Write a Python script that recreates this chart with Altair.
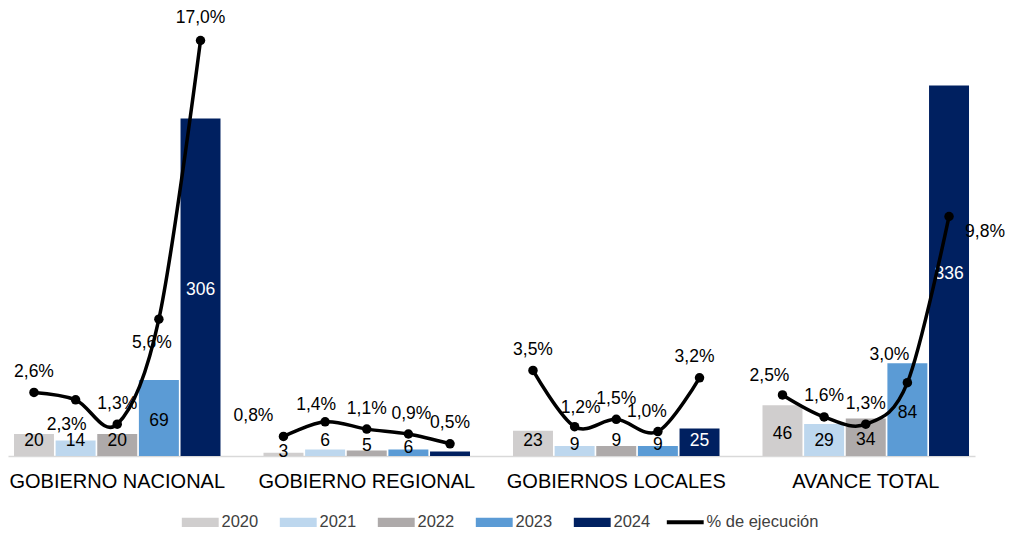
import altair as alt
import pandas as pd

categories = ["GOBIERNO NACIONAL", "GOBIERNO REGIONAL", "GOBIERNOS LOCALES", "AVANCE TOTAL"]
years = ["2020", "2021", "2022", "2023", "2024"]

gn_values = [20, 14, 20, 69, 306]
gr_values = [3, 6, 5, 6, 4]
gl_values = [23, 9, 9, 9, 25]
at_values = [46, 29, 34, 84, 336]

gn_pct = [2.6, 2.3, 1.3, 5.6, 17.0]
gr_pct = [0.8, 1.4, 1.1, 0.9, 0.5]
gl_pct = [3.5, 1.2, 1.5, 1.0, 3.2]
at_pct = [2.5, 1.6, 1.3, 3.0, 9.8]

line_label = "% de ejecución"
year_colors = ["#d0cece", "#bdd7ee", "#aeaaaa", "#5b9bd5", "#002060"]

rows = []
for cat, vals, pcts in zip(categories,
                           [gn_values, gr_values, gl_values, at_values],
                           [gn_pct, gr_pct, gl_pct, at_pct]):
    for yr, v, p in zip(years, vals, pcts):
        rows.append({"cat": cat, "year": yr, "value": v, "pct": p})
df = pd.DataFrame(rows)

FONT = "Liberation Sans"
W, H = 967, 448
BAR_MAX = 406.2
PCT_MAX = 18.33

x_enc = alt.X("cat:N", sort=categories,
              scale=alt.Scale(paddingInner=0.1723, paddingOuter=0.024),
              axis=alt.Axis(title=None, labelFontSize=20, labelColor="black", labelFont=FONT,
                            labelPadding=15, ticks=False, domainColor="#d9d9d9",
                            domainWidth=1.5, labelAngle=0, labelLimit=0))
xo_enc = alt.XOffset("year:N", sort=years, scale=alt.Scale(paddingInner=0.04, paddingOuter=0))
bar_scale = alt.Scale(domain=[0, BAR_MAX], nice=False, zero=True)
pct_scale = alt.Scale(domain=[0, PCT_MAX], nice=False, zero=True)

legend_common = dict(orient="none", legendY=506, direction="horizontal", title=None,
                     symbolSize=85, labelFontSize=16.5, labelFont=FONT,
                     labelColor="#404040", labelOffset=13, columnPadding=20, padding=0)

base = alt.Chart(df)

bars = base.mark_bar().encode(
    x=x_enc,
    xOffset=xo_enc,
    y=alt.Y("value:Q", scale=bar_scale, axis=None),
    color=alt.Color("year:N",
                    scale=alt.Scale(domain=years, range=year_colors),
                    legend=alt.Legend(legendX=184, symbolType="M-4,-1H4V1H-4Z",
                                      symbolStrokeWidth=0, **legend_common)),
)

# small per-label vertical nudges for bar value labels (style only)
bar_label_dy = {
    ("GOBIERNO REGIONAL", "2020"): 14,
    ("GOBIERNO REGIONAL", "2022"): 8,
    ("GOBIERNO REGIONAL", "2023"): 10,
    ("GOBIERNO REGIONAL", "2024"): 7,
    ("GOBIERNOS LOCALES", "2021"): 7,
    ("GOBIERNOS LOCALES", "2023"): 7,
}


def cond(cat, yr):
    return f"(datum.cat == '{cat}' && datum.year == '{yr}')"


def bar_text(dy, filt):
    return base.transform_filter(filt).transform_calculate(
        lab="max(datum.value / 2, 16.5)"
    ).mark_text(fontSize=17.5, font=FONT, baseline="middle", dy=dy).encode(
        x=x_enc,
        xOffset=xo_enc,
        y=alt.Y("lab:Q", scale=bar_scale, axis=None),
        text=alt.Text("value:Q"),
        color=alt.condition(alt.datum.year == "2024", alt.value("white"), alt.value("black")),
    )


bexc = " || ".join(cond(c, y) for (c, y) in bar_label_dy)
bar_layers = [bar_text(3, f"!({bexc})")]
for (c, y), dy in bar_label_dy.items():
    bar_layers.append(bar_text(dy, cond(c, y)))

line = base.transform_calculate(series=f"'{line_label}'").mark_line(
    strokeWidth=3.5, interpolate="cardinal", strokeCap="round"
).encode(
    x=x_enc,
    xOffset=xo_enc,
    y=alt.Y("pct:Q", scale=pct_scale, axis=None),
    detail="cat:N",
    order=alt.Order("year:O"),
    stroke=alt.Stroke("series:N", scale=alt.Scale(domain=[line_label], range=["black"]),
                      legend=alt.Legend(legendX=669, symbolType="M-4,0H4",
                                        symbolStrokeWidth=4, symbolFillColor="transparent",
                                        **legend_common)),
)

points = base.mark_circle(color="black", size=90, opacity=1).encode(
    x=x_enc,
    xOffset=xo_enc,
    y=alt.Y("pct:Q", scale=pct_scale, axis=None),
)

# label offsets for percentage labels (style only)
label_offsets = {
    ("GOBIERNO NACIONAL", "2021"): (-9, 25),
    ("GOBIERNO NACIONAL", "2023"): (-7, 24),
    ("GOBIERNO REGIONAL", "2020"): (-30, -20),
    ("GOBIERNO REGIONAL", "2021"): (-9, -17),
    ("GOBIERNO REGIONAL", "2023"): (3, -20),
    ("GOBIERNOS LOCALES", "2021"): (6, -19),
    ("GOBIERNOS LOCALES", "2023"): (-11, -20),
    ("GOBIERNOS LOCALES", "2024"): (-5, -21),
    ("AVANCE TOTAL", "2020"): (-13, -19),
    ("AVANCE TOTAL", "2023"): (-18, -28),
    ("AVANCE TOTAL", "2024"): (36, 16),
    ("GOBIERNO NACIONAL", "2024"): (0, -23),
}

pct_base = base.transform_calculate(
    pct_label="replace(format(datum.pct, '.1f'), '.', ',') + '%'"
)


def pct_text(dx, dy, filt):
    return pct_base.transform_filter(filt).mark_text(
        fontSize=17.5, font=FONT, color="black", baseline="middle", dx=dx, dy=dy
    ).encode(
        x=x_enc,
        xOffset=xo_enc,
        y=alt.Y("pct:Q", scale=pct_scale, axis=None),
        text="pct_label:N",
    )


exc = " || ".join(cond(c, y) for (c, y) in label_offsets)
text_layers = [pct_text(0, -20.5, f"!({exc})")]
for (c, y), (dx, dy) in label_offsets.items():
    text_layers.append(pct_text(dx, dy, cond(c, y)))

chart = alt.layer(bars, *bar_layers, line, points, *text_layers).resolve_scale(
    y="independent"
).properties(
    width=W, height=H, padding=0
).configure(font=FONT).configure_view(stroke=None)

chart.save("out.html", embed_options={"renderer": "svg", "actions": False})
